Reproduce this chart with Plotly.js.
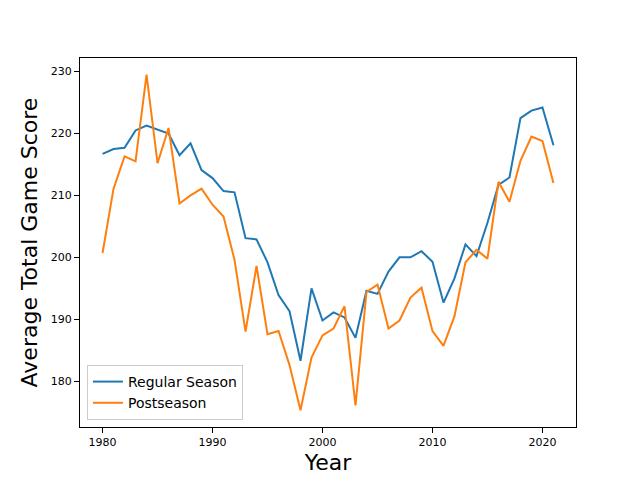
<!DOCTYPE html>
<html>
<head>
<meta charset="utf-8">
<script src="https://cdn.plot.ly/plotly-3.0.1.min.js"></script>
<style>html,body{margin:0;padding:0;background:#fff;}#chart{width:640px;height:480px;}</style>
</head>
<body>
<div id="chart"></div>
<script>
const years = [1980,1981,1982,1983,1984,1985,1986,1987,1988,1989,1990,1991,1992,1993,1994,1995,1996,1997,1998,1999,2000,2001,2002,2003,2004,2005,2006,2007,2008,2009,2010,2011,2012,2013,2014,2015,2016,2017,2018,2019,2020,2021];
const regularSeason = [216.7,217.5,217.7,220.5,221.3,220.6,220.0,216.5,218.4,214.1,212.8,210.7,210.5,203.1,202.9,199.2,193.9,191.3,183.3,195.0,189.8,191.1,190.3,187.0,194.6,194.1,197.7,200.0,200.0,201.0,199.3,192.7,196.6,202.1,200.2,205.6,211.7,212.9,222.5,223.7,224.2,218.1];
const postseason = [200.7,211.1,216.3,215.5,229.5,215.2,220.9,208.7,210.0,211.1,208.5,206.6,199.6,188.0,198.6,187.6,188.1,182.6,175.3,183.8,187.4,188.5,192.1,176.1,194.4,195.6,188.5,189.8,193.5,195.1,188.1,185.7,190.5,199.2,201.2,199.8,212.2,209.0,215.6,219.5,218.8,212.0];
const seriesNames = ["Regular Season", "Postseason"];

const font = "DejaVu Sans, sans-serif";
const traces = [
  {x: years, y: regularSeason, name: seriesNames[0], type: "scatter", mode: "lines",
   line: {color: "#1f77b4", width: 2}},
  {x: years, y: postseason, name: seriesNames[1], type: "scatter", mode: "lines",
   line: {color: "#ff7f0e", width: 2}}
];
const axisCommon = {
  showline: true, mirror: true, linecolor: "#000", linewidth: 1,
  showgrid: false, zeroline: false,
  ticks: "outside", ticklen: 5, tickwidth: 1, tickcolor: "#000",
  tickfont: {family: font, size: 11, color: "#000"}
};
const layout = {
  width: 640, height: 480,
  margin: {l: 80, r: 64, t: 58, b: 53},
  paper_bgcolor: "#fff", plot_bgcolor: "#fff",
  showlegend: true,
  xaxis: Object.assign({}, axisCommon, {
    range: [1977.95, 2023.05], tick0: 1980, dtick: 10,
    title: {text: "Year", font: {family: font, size: 22, color: "#000"}, standoff: 6}
  }),
  yaxis: Object.assign({}, axisCommon, {
    range: [172.6, 232.2], tick0: 180, dtick: 10,
    title: {text: "Average Total Game Score", font: {family: font, size: 22, color: "#000"}, standoff: 7}
  }),
  legend: {
    x: 0.014, y: 0.019, xanchor: "left", yanchor: "bottom",
    bgcolor: "rgba(255,255,255,0.8)", bordercolor: "#cccccc", borderwidth: 1,
    font: {family: font, size: 14, color: "#000"},
    tracegroupgap: 0
  }
};
Plotly.newPlot("chart", traces, layout, {displayModeBar: false, staticPlot: true});
</script>
</body>
</html>
